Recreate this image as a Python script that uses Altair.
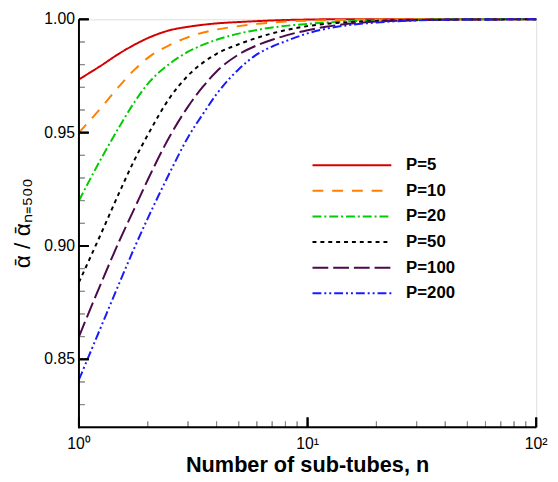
import altair as alt
import pandas as pd

# ---- data ----
n_values = [1, 1.25, 1.5, 1.75, 2, 2.5, 3, 3.5, 4, 5, 6, 7, 8, 10, 12, 15, 20, 30, 50, 100]
p5   = [0.9735, 0.9796, 0.9849, 0.9888, 0.9917, 0.9952, 0.9967, 0.9976, 0.9982, 0.9988, 0.9992, 0.9995, 0.9997, 0.9999, 1.0, 1.0, 1.0, 1.0, 1.0, 1.0]
p10  = [0.9500, 0.9610, 0.9705, 0.9778, 0.9830, 0.9887, 0.9921, 0.9942, 0.9955, 0.9970, 0.9980, 0.9986, 0.9990, 0.9994, 0.9996, 0.9998, 0.9999, 1.0, 1.0, 1.0]
p20  = [0.9200, 0.9385, 0.9525, 0.9635, 0.9715, 0.9805, 0.9857, 0.9888, 0.9910, 0.9937, 0.9953, 0.9964, 0.9971, 0.9980, 0.9986, 0.9991, 0.9995, 0.9998, 1.0, 1.0]
p50  = [0.8840, 0.9055, 0.9235, 0.9380, 0.9490, 0.9655, 0.9752, 0.9810, 0.9848, 0.9890, 0.9918, 0.9938, 0.9952, 0.9970, 0.9980, 0.9987, 0.9993, 0.9997, 0.9999, 1.0]
p100 = [0.8600, 0.8836, 0.9021, 0.9166, 0.9292, 0.9485, 0.9615, 0.9705, 0.9770, 0.9845, 0.9885, 0.9910, 0.9928, 0.9952, 0.9967, 0.9980, 0.9990, 0.9996, 0.9999, 1.0]
p200 = [0.8410, 0.8644, 0.8835, 0.8993, 0.9122, 0.9325, 0.9480, 0.9585, 0.9670, 0.9780, 0.9845, 0.9880, 0.9903, 0.9938, 0.9958, 0.9974, 0.9986, 0.9995, 0.9999, 1.0]

series_labels = ["P=5", "P=10", "P=20", "P=50", "P=100", "P=200"]
series_values = [p5, p10, p20, p50, p100, p200]
colors = ["#d40000", "#ff8000", "#00cc00", "#000000", "#4b0a4b", "#1a1aff"]
dashes = [[1, 0], [11, 9], [9, 3, 2, 3], [4, 4], [16, 5], [9, 3, 2, 3, 2, 3]]

y_major = [0.85, 0.90, 0.95, 1.00]
y_minor = [0.83, 0.84, 0.86, 0.87, 0.88, 0.89, 0.91, 0.92, 0.93, 0.94, 0.96, 0.97, 0.98, 0.99]
x_major = [1, 10, 100]
x_tick_labels = ["10⁰", "10¹", "10²"]
x_minor = [2, 3, 4, 5, 6, 7, 8, 9, 20, 30, 40, 50, 60, 70, 80, 90]
x_title = "Number of sub-tubes, n"
y_title = "ᾱ / ᾱₙ₌₅₀₀"

rows = []
for lab, vals in zip(series_labels, series_values):
    for n, v in zip(n_values, vals):
        rows.append({"n": n, "ratio": v, "P": lab})
df = pd.DataFrame(rows)

W, H = 464, 414
FONT = "Liberation Sans"

xscale = alt.Scale(type="log", domain=[1, 100], nice=False)
yscale = alt.Scale(domain=[0.82, 1.0], nice=False, zero=False)

legend_cfg = dict(title=None, orient="none", legendX=266, legendY=137,
                  symbolType="M-4,0H4", symbolSize=400, symbolStrokeWidth=2,
                  labelFont=FONT, labelFontSize=17, labelFontWeight="bold",
                  labelColor="#000", labelOffset=44, rowPadding=7)

# curves
lines = alt.Chart(df).mark_line(strokeWidth=2, interpolate="monotone").encode(
    x=alt.X("n:Q", scale=xscale, axis=None),
    y=alt.Y("ratio:Q", scale=yscale, axis=None),
    color=alt.Color("P:N", scale=alt.Scale(domain=series_labels, range=colors),
                    legend=alt.Legend(**legend_cfg)),
    strokeDash=alt.StrokeDash("P:N", scale=alt.Scale(domain=series_labels, range=dashes),
                              legend=alt.Legend(**legend_cfg)),
)

ydf_major = pd.DataFrame({"v": y_major})
ydf_minor = pd.DataFrame({"v": y_minor})
xdf_major = pd.DataFrame({"v": x_major, "lab": x_tick_labels})
xdf_minor = pd.DataFrame({"v": x_minor})


def y_ticks(data, length, width, color):
    return alt.Chart(data).mark_rule(color=color, strokeWidth=width, opacity=1).encode(
        y=alt.Y("v:Q", scale=yscale, axis=None), x=alt.value(0), x2=alt.value(length))


def x_ticks(data, length, width, color):
    return alt.Chart(data).mark_rule(color=color, strokeWidth=width, opacity=1).encode(
        x=alt.X("v:Q", scale=xscale, axis=None), y=alt.value(H), y2=alt.value(H - length))


def y_ticks_sym(data, length, width, color):
    return alt.Chart(data).mark_point(shape="M0,0H2", size=length * length, filled=False,
                                      stroke=color, strokeWidth=width, opacity=1).encode(
        y=alt.Y("v:Q", scale=yscale, axis=None), x=alt.value(0))


def x_ticks_sym(data, length, width, color):
    return alt.Chart(data).mark_point(shape="M0,0V-2", size=length * length, filled=False,
                                      stroke=color, strokeWidth=width, opacity=1).encode(
        x=alt.X("v:Q", scale=xscale, axis=None), y=alt.value(H))


# axis lines
one = pd.DataFrame({"k": [0]})
y_domain = alt.Chart(one).mark_rule(color="#000", strokeWidth=2).encode(
    x=alt.value(0), y=alt.value(0), y2=alt.value(H + 1))
x_domain = alt.Chart(one).mark_rule(color="#000", strokeWidth=2).encode(
    x=alt.value(-1), x2=alt.value(W), y=alt.value(H))

# tick labels
y_labels = alt.Chart(ydf_major).mark_text(
    align="right", baseline="middle", dx=-4, font=FONT, fontSize=16, color="#000").encode(
    y=alt.Y("v:Q", scale=yscale, axis=None), x=alt.value(0),
    text=alt.Text("v:Q", format=".2f"))
x_labels = alt.Chart(xdf_major).mark_text(
    align="center", baseline="middle", font=FONT, fontSize=16, color="#000").encode(
    x=alt.X("v:Q", scale=xscale, axis=None), y=alt.value(H + 17), text="lab:N")

# axis titles
x_title_mark = alt.Chart(pd.DataFrame({"t": [x_title]})).mark_text(
    align="center", baseline="middle", font=FONT, fontSize=22, fontWeight="bold", color="#000").encode(
    x=alt.value(W / 2), y=alt.value(H + 38), text="t:N")
y_title_mark = alt.Chart(pd.DataFrame({"t": [y_title]})).mark_text(
    align="center", baseline="middle", angle=270, font=FONT, fontSize=23, color="#000").encode(
    x=alt.value(-57), y=alt.value(H / 2), text="t:N")

chart = alt.layer(
    lines,
    y_ticks(ydf_minor, 6, 1, "#888"), y_ticks(ydf_major, 10, 2, "#000"),
    x_ticks(xdf_minor, 6, 1, "#888"), x_ticks(xdf_major, 10, 2, "#000"),
    y_ticks_sym(ydf_minor, 6, 1, "#888"), y_ticks_sym(ydf_major, 10, 2, "#000"),
    x_ticks_sym(xdf_minor, 6, 1, "#888"), x_ticks_sym(xdf_major, 10, 2, "#000"),
    y_domain, x_domain, y_labels, x_labels, x_title_mark, y_title_mark,
).properties(
    width=W, height=H,
    autosize=alt.AutoSizeParams(type="none"),
    padding={"left": 72, "top": 8, "right": 14, "bottom": 50},
).configure_view(stroke=None).configure(background="white")

chart.save("out.html", embed_options={"renderer": "svg", "actions": False})
